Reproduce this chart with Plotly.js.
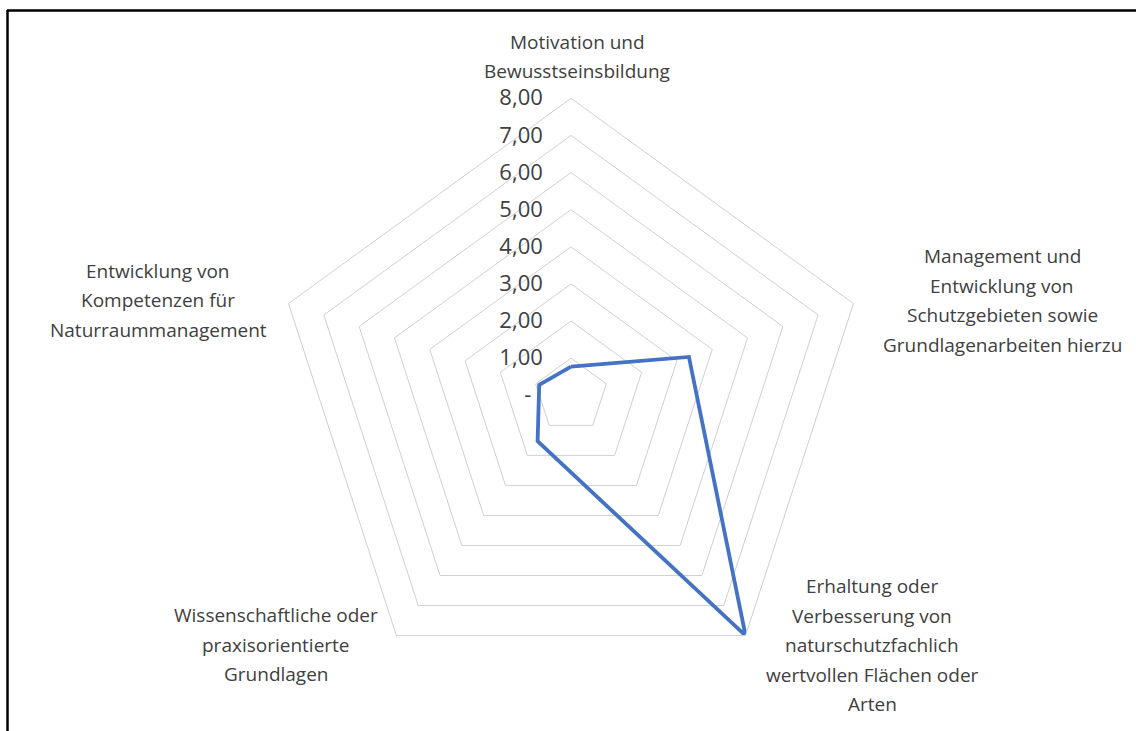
<!DOCTYPE html>
<html>
<head>
<meta charset="utf-8">
<script src="https://cdn.plot.ly/plotly-3.0.1.min.js"></script>
<style>html,body{margin:0;padding:0;background:#fff;}#chart{width:1136px;height:731px;}</style>
</head>
<body>
<div id="chart"></div>
<script>
// ---- data ----
var categories = [
  "Motivation und\nBewusstseinsbildung",
  "Management und\nEntwicklung von\nSchutzgebieten sowie\nGrundlagenarbeiten hierzu",
  "Erhaltung oder\nVerbesserung von\nnaturschutzfachlich\nwertvollen Flächen oder\nArten",
  "Wissenschaftliche oder\npraxisorientierte\nGrundlagen",
  "Entwicklung von\nKompetenzen für\nNaturraummanagement"
];
var values = [0.77, 3.34, 8.00, 1.53, 0.90];
var tickValues = [0, 1, 2, 3, 4, 5, 6, 7, 8];
var tickLabels = ["-\u00a0\u00a0", "1,00", "2,00", "3,00", "4,00", "5,00", "6,00", "7,00", "8,00"];

// ---- layout helpers ----
var W = 1136, H = 731;
function px(x) { return x / W; }
function py(y) { return 1 - y / H; }
var FONT = "Open Sans, sans-serif";
var TXT = "#404040";

// centre positions of the category label blocks (pixels) and line spacing
var labelPos = [
  {x: 577, y: 42},
  {x: 1002, y: 256},
  {x: 872, y: 586},
  {x: 276, y: 615},
  {x: 158, y: 271}
];
var lineGap = 29.5;

var thetaClosed = categories.concat([categories[0]]);
var rClosed = values.concat([values[0]]);

var trace = {
  type: "scatterpolar",
  r: rClosed,
  theta: thetaClosed,
  mode: "lines",
  line: {color: "#4472C4", width: 3.8},
  hoverinfo: "skip",
  showlegend: false
};

var annotations = [];
categories.forEach(function (c, i) {
  c.split("\n").forEach(function (line, j) {
    annotations.push({
      xref: "paper", yref: "paper",
      x: px(labelPos[i].x), y: py(labelPos[i].y + j * lineGap),
      xanchor: "center", yanchor: "middle",
      text: line, showarrow: false,
      font: {family: FONT, size: 19, color: TXT}
    });
  });
});

var cx = 571, cy = 395.3, R = 297;
var layout = {
  width: W, height: H,
  margin: {l: 0, r: 0, t: 0, b: 0},
  paper_bgcolor: "#ffffff",
  plot_bgcolor: "#ffffff",
  showlegend: false,
  font: {family: FONT, color: TXT},
  polar: {
    domain: {x: [px(cx - R), px(cx + R)], y: [py(cy + R), py(cy - R)]},
    bgcolor: "rgba(0,0,0,0)",
    gridshape: "linear",
    radialaxis: {
      range: [0, 8],
      angle: 90,
      side: "counterclockwise",
      tickangle: 90,
      tickmode: "array",
      tickvals: tickValues,
      ticktext: tickLabels,
      showline: false,
      ticks: "outside",
      ticklen: 20,
      tickcolor: "rgba(0,0,0,0)",
      gridcolor: "#d0d0d0",
      gridwidth: 1,
      tickfont: {family: FONT, size: 22, color: TXT}
    },
    angularaxis: {
      type: "category",
      categoryarray: categories,
      direction: "clockwise",
      rotation: 90,
      showgrid: false,
      showticklabels: false,
      ticks: "",
      linecolor: "#d0d0d0",
      linewidth: 1
    }
  },
  shapes: [
    {type: "line", xref: "paper", yref: "paper", x0: px(7), x1: 1, y0: py(10.5), y1: py(10.5), line: {color: "#000", width: 2.5}},
    {type: "line", xref: "paper", yref: "paper", x0: px(7.5), x1: px(7.5), y0: py(10), y1: 0, line: {color: "#000", width: 2.5}}
  ],
  annotations: annotations
};

Plotly.newPlot("chart", [trace], layout, {displayModeBar: false, staticPlot: true});
</script>
</body>
</html>
